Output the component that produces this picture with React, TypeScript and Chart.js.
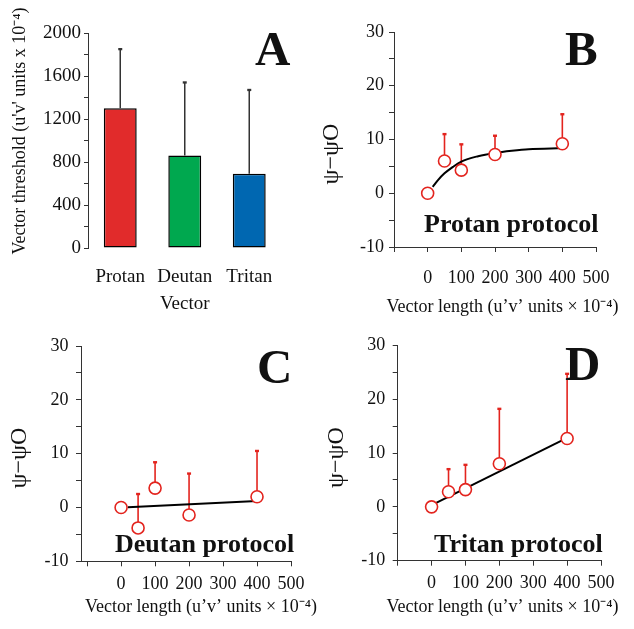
import React, { useEffect, useRef } from 'react';
import { Chart, registerables } from 'chart.js';

Chart.register(...registerables);

const SERIF = "'Liberation Serif', 'Times New Roman', Times, serif";
const INK = '#111111';
const AXIS = '#333333';
const RED = '#E3241E';

// ---------- Panel A data ----------
const vectorCategories = ['Protan', 'Deutan', 'Tritan'];
const thresholdMeans = [1300, 860, 690];
const thresholdUpper = [1850, 1540, 1470];
const barColors = ['#E12B2B', '#00A84F', '#0067B1'];

// ---------- Panels B-D data ----------
const vectorLengths = [0, 50, 100, 200, 400];
const xTickValues = [-100, 0, 100, 200, 300, 400, 500];

const protanMeans = [0, 6.0, 4.3, 7.2, 9.2];
const protanUpper = [null, 11.0, 9.1, 10.7, 14.7];
const protanFitX = [15, 30, 50, 75, 100, 150, 200, 250, 300, 400];
const protanFitY = [1.2, 2.4, 3.7, 4.9, 5.9, 6.9, 7.5, 7.9, 8.2, 8.4];

const deutanMeans = [0, -3.8, 3.6, -1.4, 2.0];
const deutanUpper = [null, 2.5, 8.4, 6.3, 10.5];
const deutanFitX = [20, 400];
const deutanFitY = [0.05, 1.2];

const tritanMeans = [0, 2.8, 3.2, 8.0, 12.7];
const tritanUpper = [null, 7.0, 7.8, 18.2, 24.7];
const tritanFitX = [12, 400];
const tritanFitY = [0.7, 12.8];

const thresholdAxisTitle = "Vector threshold (u'v' units x 10⁻⁴)";
const lengthAxisTitle = 'Vector length (u’v’ units × 10⁻⁴)';
const psiAxisTitle = 'ψ−ψO';

type TextItem = {
  text: string;
  x: number;
  y: number;
  font: string;
  align?: CanvasTextAlign;
  baseline?: CanvasTextBaseline;
  rotate?: number;
};

function textPlugin(items: TextItem[]) {
  return {
    id: 'panelText',
    afterDraw(chart: any) {
      const ctx = chart.ctx as CanvasRenderingContext2D;
      items.forEach((it) => {
        ctx.save();
        ctx.fillStyle = INK;
        ctx.font = it.font;
        ctx.textAlign = it.align || 'left';
        ctx.textBaseline = it.baseline || 'alphabetic';
        ctx.translate(it.x, it.y);
        if (it.rotate) ctx.rotate(it.rotate);
        ctx.fillText(it.text, 0, 0);
        ctx.restore();
      });
    },
  };
}

function errorBarPlugin(
  xs: number[],
  means: number[],
  upper: (number | null)[],
  color: string,
  lineWidth: number,
  capHalf: number,
  behind: boolean
) {
  const draw = (chart: any) => {
    const ctx = chart.ctx as CanvasRenderingContext2D;
    const xs_ = chart.scales.x;
    const ys_ = chart.scales.y;
    ctx.save();
    ctx.strokeStyle = color;
    ctx.lineWidth = lineWidth;
    upper.forEach((u, i) => {
      if (u === null || u === undefined) return;
      const px = xs_.getPixelForValue(xs[i]);
      const py0 = ys_.getPixelForValue(means[i]);
      const py1 = ys_.getPixelForValue(u);
      ctx.beginPath();
      ctx.moveTo(px, py0);
      ctx.lineTo(px, py1);
      ctx.stroke();
      ctx.beginPath();
      ctx.lineWidth = lineWidth + 0.8;
      ctx.moveTo(px - capHalf, py1);
      ctx.lineTo(px + capHalf, py1);
      ctx.stroke();
      ctx.lineWidth = lineWidth;
    });
    ctx.restore();
  };
  return behind
    ? { id: 'errorBars', beforeDatasetsDraw: draw }
    : { id: 'errorBars', afterDatasetsDraw: draw };
}

type Geo = {
  w: number;
  h: number;
  left: number;
  top: number;
  right: number;
  bottom: number;
};

function buildBarConfig(g: Geo) {
  return {
    type: 'bar',
    data: {
      labels: vectorCategories,
      datasets: [
        {
          data: thresholdMeans,
          backgroundColor: barColors,
          borderColor: '#000',
          borderWidth: 1.5,
          borderSkipped: false,
          categoryPercentage: 1,
          barPercentage: 0.51,
        },
      ],
    },
    options: {
      animation: false,
      responsive: false,
      events: [],
      layout: { padding: { left: 0, top: g.top, right: g.w - g.right, bottom: 0 } },
      plugins: { legend: { display: false }, tooltip: { enabled: false } },
      scales: {
        x: {
          type: 'category',
          offset: true,
          afterFit: (s: any) => {
            s.height = g.h - g.bottom;
          },
          grid: { display: false, drawTicks: false },
          border: { display: false },
          ticks: {
            color: INK,
            font: { family: SERIF, size: 19 },
            padding: 18,
            maxRotation: 0,
            autoSkip: false,
          },
          title: {
            display: true,
            text: 'Vector',
            color: INK,
            font: { family: SERIF, size: 19 },
            padding: { top: 0, bottom: 5 },
          },
        },
        y: {
          type: 'linear',
          min: 0,
          max: 2000,
          afterFit: (s: any) => {
            s.width = g.left;
          },
          grid: { drawOnChartArea: false, drawTicks: true, tickLength: 4, color: AXIS, lineWidth: 1 },
          border: { display: true, color: AXIS, width: 1 },
          ticks: {
            stepSize: 200,
            autoSkip: false,
            color: INK,
            padding: 3,
            font: { family: SERIF, size: 19 },
            callback: (v: number) => (v % 400 === 0 ? String(v) : ''),
          },
        },
      },
    },
    plugins: [
      errorBarPlugin([0, 1, 2], thresholdMeans, thresholdUpper, '#333', 1.5, 2, false),
      textPlugin([
        { text: 'A', x: 255, y: 65, font: `bold 49px ${SERIF}` },
        {
          text: thresholdAxisTitle,
          x: 20,
          y: 131,
          font: `18px ${SERIF}`,
          align: 'center',
          baseline: 'middle',
          rotate: -Math.PI / 2,
        },
      ]),
    ],
  };
}

type ProtoSpec = {
  geo: Geo;
  xMin: number;
  means: number[];
  upper: (number | null)[];
  fitX: number[];
  fitY: number[];
  letter: string;
  letterX: number;
  letterY: number;
  label: string;
  labelX: number;
  labelY: number;
  psiX: number;
  psiY: number;
  titleX: number;
  titleY: number;
  xTickPad: number;
  yTickPad: number;
  curved: boolean;
};

function buildProtocolConfig(p: ProtoSpec) {
  const g = p.geo;
  return {
    type: 'scatter',
    data: {
      datasets: [
        {
          data: vectorLengths.map((x, i) => ({ x, y: p.means[i] })),
          showLine: false,
          pointRadius: 6,
          pointBorderWidth: 1.6,
          pointBorderColor: RED,
          pointBackgroundColor: '#ffffff',
        },
        {
          data: p.fitX.map((x, i) => ({ x, y: p.fitY[i] })),
          showLine: true,
          borderColor: '#000',
          borderWidth: 2,
          pointRadius: 0,
          cubicInterpolationMode: p.curved ? 'monotone' : 'default',
          tension: 0,
        },
      ],
    },
    options: {
      animation: false,
      responsive: false,
      events: [],
      layout: { padding: { left: 0, top: g.top, right: g.w - g.right, bottom: 0 } },
      plugins: { legend: { display: false }, tooltip: { enabled: false } },
      scales: {
        x: {
          type: 'linear',
          min: p.xMin,
          max: 500,
          afterBuildTicks: (s: any) => {
            s.ticks = xTickValues.map((v) => ({ value: v }));
          },
          afterFit: (s: any) => {
            s.height = g.h - g.bottom;
          },
          grid: { drawOnChartArea: false, drawTicks: true, tickLength: 5, color: AXIS, lineWidth: 1 },
          border: { display: true, color: AXIS, width: 1 },
          ticks: {
            autoSkip: false,
            maxRotation: 0,
            color: INK,
            padding: p.xTickPad,
            font: { family: SERIF, size: 18 },
            callback: (v: number) => (v < 0 ? '' : String(v)),
          },
        },
        y: {
          type: 'linear',
          min: -10,
          max: 30,
          afterFit: (s: any) => {
            s.width = g.left;
          },
          grid: { drawOnChartArea: false, drawTicks: true, tickLength: 5, color: AXIS, lineWidth: 1 },
          border: { display: true, color: AXIS, width: 1 },
          ticks: {
            stepSize: 5,
            autoSkip: false,
            color: INK,
            padding: p.yTickPad,
            font: { family: SERIF, size: 18 },
            callback: (v: number) => (v % 10 === 0 ? String(v) : ''),
          },
        },
      },
    },
    plugins: [
      errorBarPlugin(vectorLengths, p.means, p.upper, RED, 1.6, 2, true),
      textPlugin([
        { text: p.letter, x: p.letterX, y: p.letterY, font: `bold 49px ${SERIF}` },
        { text: p.label, x: p.labelX, y: p.labelY, font: `bold 26px ${SERIF}` },
        {
          text: psiAxisTitle,
          x: p.psiX,
          y: p.psiY,
          font: `24px ${SERIF}`,
          align: 'center',
          baseline: 'middle',
          rotate: -Math.PI / 2,
        },
        {
          text: lengthAxisTitle,
          x: p.titleX,
          y: p.titleY,
          font: `18px ${SERIF}`,
          align: 'center',
          baseline: 'middle',
        },
      ]),
    ],
  };
}

function Panel(props: { x: number; y: number; w: number; h: number; build: () => any }) {
  const ref = useRef<HTMLCanvasElement | null>(null);
  useEffect(() => {
    if (!ref.current) return;
    const chart = new Chart(ref.current, props.build());
    return () => chart.destroy();
  }, []);
  return (
    <canvas
      ref={ref}
      width={props.w}
      height={props.h}
      style={{ position: 'absolute', left: props.x, top: props.y, width: props.w, height: props.h }}
    />
  );
}

const geoA: Geo = { w: 317, h: 320, left: 88, top: 33, right: 281.5, bottom: 248 };
const geoB: Geo = { w: 317, h: 320, left: 77, top: 32, right: 279, bottom: 247 };
const geoC: Geo = { w: 317, h: 319, left: 81, top: 36, right: 291, bottom: 251.3 };
const geoD: Geo = { w: 317, h: 319, left: 80.7, top: 35.3, right: 284, bottom: 250.7 };

export default function App() {
  return (
    <div
      style={{
        position: 'fixed',
        left: 0,
        top: 0,
        width: 634,
        height: 629,
        background: '#ffffff',
        overflow: 'hidden',
      }}
    >
      <Panel x={0} y={0} w={geoA.w} h={geoA.h} build={() => buildBarConfig(geoA)} />
      <Panel
        x={317}
        y={0}
        w={geoB.w}
        h={geoB.h}
        build={() =>
          buildProtocolConfig({
            geo: geoB,
            xMin: -100,
            means: protanMeans,
            upper: protanUpper,
            fitX: protanFitX,
            fitY: protanFitY,
            letter: 'B',
            letterX: 248,
            letterY: 65,
            label: 'Protan protocol',
            labelX: 107,
            labelY: 232,
            psiX: 15,
            psiY: 154,
            titleX: 185.5,
            titleY: 307,
            xTickPad: 15,
            yTickPad: 5,
            curved: true,
          })
        }
      />
      <Panel
        x={0}
        y={310}
        w={geoC.w}
        h={geoC.h}
        build={() =>
          buildProtocolConfig({
            geo: geoC,
            xMin: -118,
            means: deutanMeans,
            upper: deutanUpper,
            fitX: deutanFitX,
            fitY: deutanFitY,
            letter: 'C',
            letterX: 257,
            letterY: 73,
            label: 'Deutan protocol',
            labelX: 115,
            labelY: 242,
            psiX: 20,
            psiY: 148,
            titleX: 201,
            titleY: 297,
            xTickPad: 7,
            yTickPad: 7.5,
            curved: false,
          })
        }
      />
      <Panel
        x={317}
        y={310}
        w={geoD.w}
        h={geoD.h}
        build={() =>
          buildProtocolConfig({
            geo: geoD,
            xMin: -100,
            means: tritanMeans,
            upper: tritanUpper,
            fitX: tritanFitX,
            fitY: tritanFitY,
            letter: 'D',
            letterX: 248,
            letterY: 70,
            label: 'Tritan protocol',
            labelX: 117,
            labelY: 242,
            psiX: 19.5,
            psiY: 147.5,
            titleX: 185.5,
            titleY: 297,
            xTickPad: 7,
            yTickPad: 7.4,
            curved: false,
          })
        }
      />
    </div>
  );
}
